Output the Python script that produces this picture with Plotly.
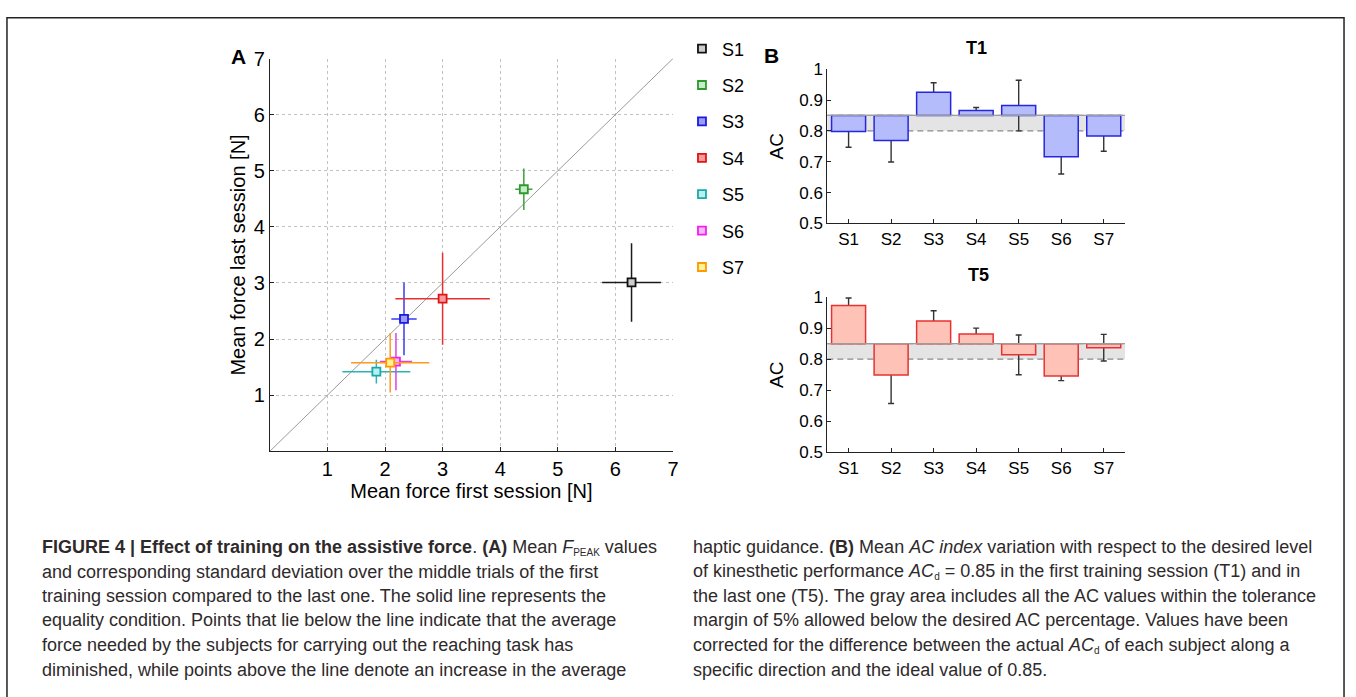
import plotly.graph_objects as go

# ---------------- data ----------------
subjects = ["S1", "S2", "S3", "S4", "S5", "S6", "S7"]

# Panel A: mean peak force (first vs last session) with SD
first_mean = [6.28, 4.41, 2.33, 3.00, 1.85, 2.19, 2.09]
first_sd = [0.51, 0.15, 0.22, 0.82, 0.59, 0.28, 0.68]
last_mean = [3.01, 4.67, 2.36, 2.72, 1.42, 1.60, 1.58]
last_sd = [0.70, 0.37, 0.65, 0.82, 0.21, 0.51, 0.53]
equality_line = [0, 7]

# Panel B: AC index per subject
ac_desired = 0.85
ac_tolerance_low = 0.80
t1_ac = [0.798, 0.769, 0.925, 0.866, 0.882, 0.716, 0.783]
t1_sd = [0.051, 0.070, 0.031, 0.010, 0.082, 0.056, 0.049]
t5_ac = [0.973, 0.749, 0.923, 0.881, 0.814, 0.746, 0.837]
t5_sd = [0.024, 0.092, 0.033, 0.019, 0.064, 0.015, 0.043]

ax_ticks_a = [1, 2, 3, 4, 5, 6, 7]
ac_ticks = [0.5, 0.6, 0.7, 0.8, 0.9, 1.0]
ac_ticktext = ["0.5", "0.6", "0.7", "0.8", "0.9", "1"]

# ---------------- styles ----------------
edge_colors = ["#111111", "#2e9a2e", "#1a1ae0", "#e01414", "#1aa8a8", "#f020f0", "#ff9900"]
fill_colors = ["#cccccc", "#c8ecc8", "#9c9cf6", "#f59c9c", "#b8f0f0", "#f6b8f6", "#fff09a"]
err_colors = ["#1a1a1a", "#3ca03c", "#3a3af0", "#e63030", "#2ab5b5", "#e040e0", "#ff9a1e"]

W, H = 1356, 697
FONT = "Liberation Sans, Arial, Helvetica, sans-serif"


def fx(p):
    return p / W


def fy(p):
    return 1 - p / H


fig = go.Figure()

# equality line
fig.add_trace(go.Scatter(x=equality_line, y=equality_line, mode="lines",
                         line=dict(color="#9a9a9a", width=1),
                         showlegend=False, hoverinfo="skip", xaxis="x", yaxis="y"))

for i, s in enumerate(subjects):
    fig.add_trace(go.Scatter(
        x=[first_mean[i]], y=[last_mean[i]], mode="markers", name=s, legendgroup=s,
        error_x=dict(type="data", array=[first_sd[i]], width=0, thickness=1.5, color=err_colors[i]),
        error_y=dict(type="data", array=[last_sd[i]], width=0, thickness=1.5, color=err_colors[i]),
        marker=dict(symbol="square", size=8, color=fill_colors[i],
                    line=dict(color=edge_colors[i], width=1.8)),
        xaxis="x", yaxis="y"))


def add_bars(vals, sds, fill, edge, xa, ya):
    sizes = [v - ac_desired for v in vals]
    # error bars first (transparent bars) so the real bars hide the inner part
    fig.add_trace(go.Bar(x=subjects, y=sizes, base=ac_desired, width=0.8,
                         marker=dict(color="rgba(0,0,0,0)", line=dict(width=0)),
                         error_y=dict(type="data", array=sds, color="#333333", thickness=1.4, width=3),
                         showlegend=False, hoverinfo="skip", xaxis=xa, yaxis=ya))
    fig.add_trace(go.Bar(x=subjects, y=sizes, base=ac_desired, width=0.8,
                         marker=dict(color=fill, line=dict(color=edge, width=1.5)),
                         showlegend=False, xaxis=xa, yaxis=ya))


add_bars(t1_ac, t1_sd, "#b4bcfb", "#2626e0", "x2", "y2")
add_bars(t5_ac, t5_sd, "#ffc2b6", "#e63232", "x3", "y3")

shapes = []
for xa, ya in (("x2", "y2"), ("x3", "y3")):
    shapes.append(dict(type="rect", xref=f"{xa} domain", yref=ya, x0=0, x1=1,
                       y0=ac_tolerance_low, y1=ac_desired, fillcolor="#e4e4e4",
                       line=dict(width=0), layer="below"))
    for yv in (ac_tolerance_low, ac_desired):
        shapes.append(dict(type="line", xref=f"{xa} domain", yref=ya, x0=0, x1=1,
                           y0=yv, y1=yv, line=dict(color="#8a8a8a", width=1.2, dash="6px,4px"),
                           layer="below"))
    shapes.append(dict(type="line", xref=f"{xa} domain", yref=ya, x0=0, x1=1,
                       y0=ac_desired, y1=ac_desired, line=dict(color="#9c9c9c", width=1.2),
                       layer="above"))

# outer frame
shapes.append(dict(type="rect", xref="paper", yref="paper", x0=fx(7), x1=fx(1350),
                   y0=-0.05, y1=fy(7), line=dict(color="#222222", width=1.5), layer="above"))

axis_a = dict(range=[0, 7], tickvals=ax_ticks_a, ticks="inside", ticklen=4, tickcolor="#222",
              showline=True, linecolor="#222", linewidth=1, showgrid=True, gridcolor="#c2c2c2",
              griddash="dot", gridwidth=1, zeroline=False,
              tickfont=dict(family=FONT, size=20, color="#000"))

axis_bx = dict(type="category", categoryarray=subjects, range=[-0.5, 6.5], ticks="inside",
               ticklen=4, tickcolor="#222", showline=True, linecolor="#222", linewidth=1,
               showgrid=False, zeroline=False, tickfont=dict(family=FONT, size=17, color="#000"))
axis_by = dict(range=[0.5, 1.0], tickvals=ac_ticks, ticktext=ac_ticktext, ticks="inside",
               ticklen=4, tickcolor="#222", showline=True, linecolor="#222", linewidth=1,
               showgrid=False, zeroline=False, tickfont=dict(family=FONT, size=17, color="#000"),
               title=dict(text="AC", font=dict(family=FONT, size=19, color="#000"), standoff=10))

fig.update_layout(
    width=W, height=H, margin=dict(l=0, r=0, t=0, b=0),
    paper_bgcolor="white", plot_bgcolor="white",
    barmode="overlay",
    font=dict(family=FONT, color="#000"),
    xaxis=dict(axis_a, domain=[fx(271), fx(676)], anchor="y",
               title=dict(text="Mean force first session [N]",
                          font=dict(family=FONT, size=20, color="#000"), standoff=4)),
    yaxis=dict(axis_a, domain=[fy(454), fy(49)], anchor="x",
               title=dict(text="Mean force last session [N]",
                          font=dict(family=FONT, size=20, color="#000"), standoff=2)),
    xaxis2=dict(axis_bx, domain=[fx(831), fx(1130)], anchor="y2"),
    yaxis2=dict(axis_by, domain=[fy(219), fy(60)], anchor="x2"),
    xaxis3=dict(axis_bx, domain=[fx(831), fx(1130)], anchor="y3"),
    yaxis3=dict(axis_by, domain=[fy(455), fy(295)], anchor="x3"),
    legend=dict(x=fx(685), xanchor="left", y=fy(20), yanchor="top",
                font=dict(family=FONT, size=18, color="#000"),
                traceorder="grouped", tracegroupgap=10, bgcolor="rgba(0,0,0,0)"),
    shapes=shapes,
    showlegend=True,
)

ann = []
ann.append(dict(text="<b>A</b>", x=fx(240), y=fy(47), xref="paper", yref="paper",
                showarrow=False, xanchor="center", yanchor="middle",
                font=dict(family=FONT, size=21, color="#000")))
ann.append(dict(text="<b>B</b>", x=fx(775), y=fy(46), xref="paper", yref="paper",
                showarrow=False, xanchor="center", yanchor="middle",
                font=dict(family=FONT, size=21, color="#000")))
ann.append(dict(text="<b>T1</b>", x=fx(981), y=fy(38), xref="paper", yref="paper",
                showarrow=False, xanchor="center", yanchor="middle",
                font=dict(family=FONT, size=18, color="#000")))
ann.append(dict(text="<b>T5</b>", x=fx(983), y=fy(272), xref="paper", yref="paper",
                showarrow=False, xanchor="center", yanchor="middle",
                font=dict(family=FONT, size=18, color="#000")))

SUB = "<span style='font-size:10px;baseline-shift:-3px'>{}</span>"
caption_left = [
    "<b>FIGURE 4 | Effect of training on the assistive force</b>. <b>(A)</b> Mean "
    "<i>F</i>" + SUB.format("PEAK") + " values",
    "and corresponding standard deviation over the middle trials of the first",
    "training session compared to the last one. The solid line represents the",
    "equality condition. Points that lie below the line indicate that the average",
    "force needed by the subjects for carrying out the reaching task has",
    "diminished, while points above the line denote an increase in the average",
]
caption_right = [
    "haptic guidance. <b>(B)</b> Mean <i>AC index</i> variation with respect to the desired level",
    "of kinesthetic performance <i>AC</i>" + SUB.format("d") + " = 0.85 "
    "in the first training session (T1) and in",
    "the last one (T5). The gray area includes all the AC values within the tolerance",
    "margin of 5% allowed below the desired AC percentage. Values have been",
    "corrected for the difference between the actual "
    "<i>AC</i>" + SUB.format("d") + " of each subject along a",
    "specific direction and the ideal value of 0.85.",
]
line_y = [553, 578, 603, 628, 654, 679]
for col_x, lines in ((40, caption_left), (694, caption_right)):
    for yy, txt in zip(line_y, lines):
        ann.append(dict(text=txt, x=fx(col_x), y=fy(yy), xref="paper", yref="paper",
                        showarrow=False, xanchor="left", yanchor="middle", align="left",
                        font=dict(family=FONT, size=18, color="#2e2a2b")))

fig.update_layout(annotations=ann)

fig.write_html("out.html", config={"displayModeBar": False},
               post_script="document.body.style.margin='0px';")
